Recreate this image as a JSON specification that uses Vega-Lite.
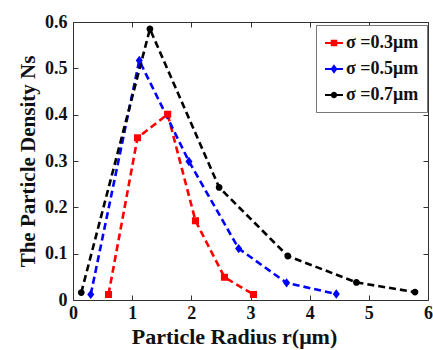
{
  "$schema": "https://vega.github.io/schema/vega-lite/v6.json",
  "width": 355,
  "height": 278,
  "autosize": "none",
  "padding": {"left": 73, "top": 22, "right": 5, "bottom": 50},
  "background": "white",
  "config": {
    "view": {"stroke": "#333", "strokeWidth": 1},
    "font": "Liberation Serif"
  },
  "data": {
    "values": [
      {"r": 0.60, "ns": 0.012, "s": "σ =0.3μm"},
      {"r": 1.09, "ns": 0.350, "s": "σ =0.3μm"},
      {"r": 1.60, "ns": 0.401, "s": "σ =0.3μm"},
      {"r": 2.07, "ns": 0.171, "s": "σ =0.3μm"},
      {"r": 2.56, "ns": 0.049, "s": "σ =0.3μm"},
      {"r": 3.05, "ns": 0.012, "s": "σ =0.3μm"},
      {"r": 0.30, "ns": 0.012, "s": "σ =0.5μm"},
      {"r": 1.12, "ns": 0.517, "s": "σ =0.5μm"},
      {"r": 1.96, "ns": 0.299, "s": "σ =0.5μm"},
      {"r": 2.80, "ns": 0.111, "s": "σ =0.5μm"},
      {"r": 3.61, "ns": 0.037, "s": "σ =0.5μm"},
      {"r": 4.45, "ns": 0.013, "s": "σ =0.5μm"},
      {"r": 0.14, "ns": 0.016, "s": "σ =0.7μm"},
      {"r": 1.30, "ns": 0.585, "s": "σ =0.7μm"},
      {"r": 2.47, "ns": 0.243, "s": "σ =0.7μm"},
      {"r": 3.63, "ns": 0.095, "s": "σ =0.7μm"},
      {"r": 4.79, "ns": 0.038, "s": "σ =0.7μm"},
      {"r": 5.78, "ns": 0.017, "s": "σ =0.7μm"}
    ]
  },
  "layer": [
    {
      "mark": {"type": "line", "strokeWidth": 2.6, "strokeDash": [7, 4]},
      "encoding": {
        "x": {
          "field": "r", "type": "quantitative",
          "scale": {"domain": [0, 6], "nice": false},
          "axis": {
            "orient": "bottom", "values": [0, 1, 2, 3, 4, 5, 6], "format": "~g",
            "title": "Particle Radius r(μm)", "titleFontSize": 22, "titleFontWeight": "bold",
            "titleColor": "#111", "titlePadding": 4, "titleX": 161,
            "labelFontSize": 18, "labelFontWeight": "bold", "labelColor": "#111",
            "labelPadding": 9, "tickSize": -5, "tickColor": "#333", "domain": false, "grid": false,
            "labelFlush": false
          }
        },
        "y": {
          "field": "ns", "type": "quantitative",
          "scale": {"domain": [0, 0.6], "nice": false},
          "axis": {
            "orient": "left", "values": [0, 0.1, 0.2, 0.3, 0.4, 0.5, 0.6], "format": "~g",
            "title": "The Particle Density Ns", "titleFontSize": 21, "titleFontWeight": "bold",
            "titleColor": "#111", "titlePadding": 6,
            "labelFontSize": 18, "labelFontWeight": "bold", "labelColor": "#111",
            "labelPadding": 11, "tickSize": -5, "tickColor": "#333", "domain": false, "grid": false,
            "labelFlush": false
          }
        },
        "color": {
          "field": "s", "type": "nominal",
          "scale": {"domain": ["σ =0.3μm", "σ =0.5μm", "σ =0.7μm"], "range": ["#ff0000", "#0000ff", "#000000"]}
        },
        "detail": {"field": "s"}
      }
    },
    {
      "mark": {"type": "point", "filled": true, "opacity": 1, "size": 800},
      "encoding": {
        "x": {
          "field": "r", "type": "quantitative",
          "axis": {"orient": "top", "values": [0, 1, 2, 3, 4, 5, 6], "labels": false, "title": null, "tickSize": -5, "tickColor": "#333", "domain": false, "grid": false}
        },
        "y": {
          "field": "ns", "type": "quantitative",
          "axis": {"orient": "right", "values": [0, 0.1, 0.2, 0.3, 0.4, 0.5, 0.6], "labels": false, "title": null, "tickSize": -5, "tickColor": "#333", "domain": false, "grid": false}
        },
        "color": {
          "field": "s", "type": "nominal",
          "scale": {"domain": ["σ =0.3μm", "σ =0.5μm", "σ =0.7μm"], "range": ["#ff0000", "#0000ff", "#000000"]},
          "legend": {
            "title": null, "orient": "none", "legendX": 243, "legendY": 3,
            "fillColor": "white", "strokeColor": "#777", "padding": 8,
            "labelFontSize": 18, "labelFontWeight": "bold", "labelColor": "#111",
            "labelFont": "Liberation Serif",
            "symbolSize": 324, "symbolStrokeWidth": 2, "rowPadding": 7,
            "labelOffset": 2
          }
        },
        "shape": {
          "field": "s", "type": "nominal",
          "scale": {"domain": ["σ =0.3μm", "σ =0.5μm", "σ =0.7μm"], "range": ["M-1,0H1M-0.25,-0.25H0.25V0.25H-0.25Z", "M-1,0H1M0,-0.33L0.25,0L0,0.33L-0.25,0Z", "M-1,0H1M0.24,0A0.24,0.24,0,1,1,-0.24,0A0.24,0.24,0,1,1,0.24,0Z"]},
          "legend": {
            "title": null, "orient": "none", "legendX": 243, "legendY": 3,
            "fillColor": "white", "strokeColor": "#777", "padding": 8,
            "labelFontSize": 18, "labelFontWeight": "bold", "labelColor": "#111",
            "labelFont": "Liberation Serif",
            "symbolSize": 324, "symbolStrokeWidth": 2, "rowPadding": 7,
            "labelOffset": 2
          }
        }
      }
    }
  ],
  "resolve": {"axis": {"x": "independent", "y": "independent"}}
}
